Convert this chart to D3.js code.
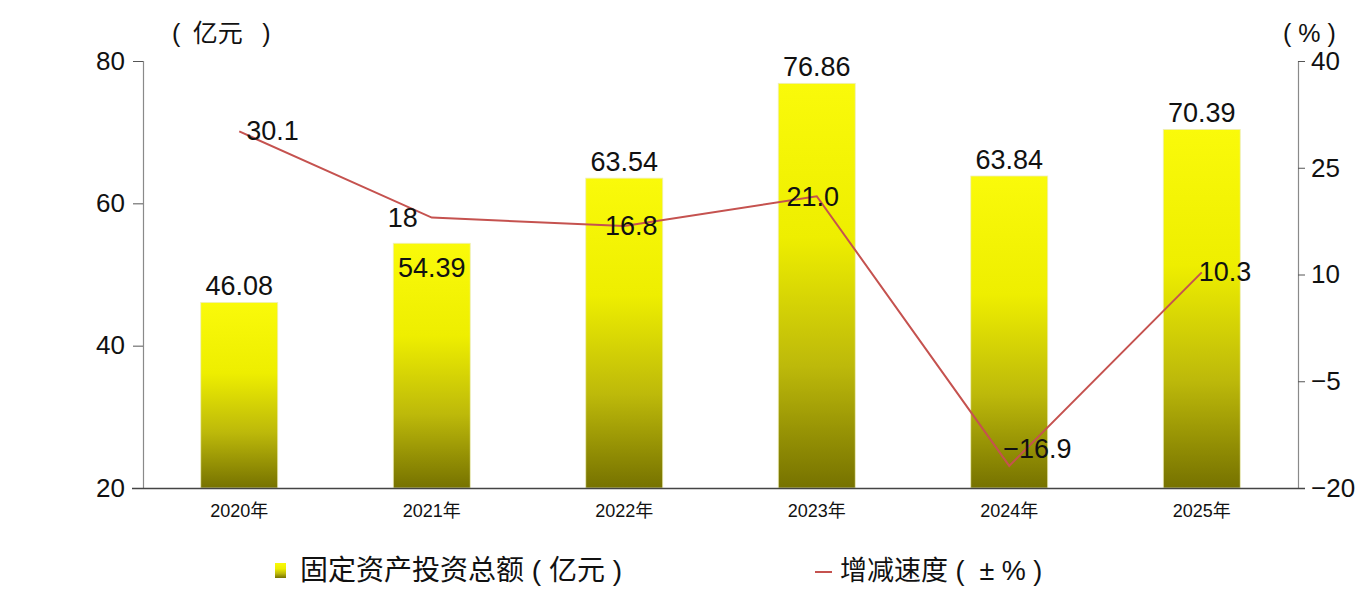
<!DOCTYPE html>
<html>
<head>
<meta charset="utf-8">
<script src="https://cdn.jsdelivr.net/npm/d3@7"></script>
<style>
  body { margin: 0; background: #fff; }
  svg { display: block; font-family: "Liberation Sans", "Noto Sans CJK SC", sans-serif; }
</style>
</head>
<body>
<svg id="chart"></svg>
<script>
// data
let years = ['2020年', '2021年', '2022年', '2023年', '2024年', '2025年'];
let investment = [46.08, 54.39, 63.54, 76.86, 63.84, 70.39];
let growth = [30.1, 18, 16.8, 21.0, -16.9, 10.3];
let growthText = ['30.1', '18', '16.8', '21.0', '\u221216.9', '10.3'];
let leftTicks = [20, 40, 60, 80];
let rightTicks = [-20, -5, 10, 25, 40];
let barName = '固定资产投资总额 ( 亿元 )';
let lineName = '增减速度 (  ± % )';
let leftUnit = '(\u2002亿元\u2002 )';
let rightUnit = '( % )';

let width = 1365;
let height = 610;
let plotLeft = 143;
let plotRight = 1298;
let plotTop = 61;
let plotBottom = 488;

let svg = d3.select('#chart')
  .attr('width', width)
  .attr('height', height);

let xScale = d3.scaleBand()
  .domain(years)
  .range([plotLeft, plotRight])
  .paddingInner(0.6)
  .paddingOuter(0.3);

let yLeft = d3.scaleLinear().domain([20, 80]).range([plotBottom, plotTop]);
let yRight = d3.scaleLinear().domain([-20, 40]).range([plotBottom, plotTop]);

let fmt = (d) => d < 0 ? '\u2212' + Math.abs(d) : String(d);

// gradient for the bars, each bar goes bright yellow -> olive
let defs = svg.append('defs');
let grad = defs.append('linearGradient')
  .attr('id', 'barGrad')
  .attr('x1', 0).attr('y1', 0)
  .attr('x2', 0).attr('y2', 1);
grad.append('stop').attr('offset', '0%').attr('stop-color', '#fafa0a');
grad.append('stop').attr('offset', '38%').attr('stop-color', '#eeee00');
grad.append('stop').attr('offset', '70%').attr('stop-color', '#bdb90a');
grad.append('stop').attr('offset', '100%').attr('stop-color', '#767200');

// bars
svg.append('g')
  .selectAll('rect')
  .data(investment)
  .enter()
  .append('rect')
  .attr('x', (d, i) => xScale(years[i]))
  .attr('y', (d) => yLeft(d))
  .attr('width', xScale.bandwidth())
  .attr('height', (d) => yLeft(20) - yLeft(d))
  .attr('fill', 'url(#barGrad)')
  .attr('stroke', '#eeeebb')
  .attr('stroke-width', 0.8);

// left axis
let leftAxis = svg.append('g')
  .attr('transform', 'translate(' + plotLeft + ',0)')
  .call(d3.axisLeft(yLeft).tickValues(leftTicks).tickSize(10).tickPadding(8).tickFormat(fmt));

// right axis
let rightAxis = svg.append('g')
  .attr('transform', 'translate(' + plotRight + ',0)')
  .call(d3.axisRight(yRight).tickValues(rightTicks).tickSize(7).tickPadding(6).tickFormat(fmt));

[leftAxis, rightAxis].forEach((ax) => {
  ax.select('.domain')
    .attr('d', 'M0.5,' + plotTop + 'V' + plotBottom)
    .attr('stroke', '#8a8a8a')
    .attr('stroke-width', 1.2);
  ax.selectAll('.tick line').attr('stroke', '#555');
  ax.selectAll('.tick text')
    .attr('fill', '#111')
    .style('font-size', '26px')
    .style('font-family', '"Liberation Sans", sans-serif');
});

// x axis
let xAxis = svg.append('g')
  .attr('transform', 'translate(0,' + plotBottom + ')')
  .call(d3.axisBottom(xScale).tickSize(0).tickPadding(16));
xAxis.select('.domain')
  .attr('d', 'M' + (plotLeft - 11) + ',0.5H' + (plotRight + 7))
  .attr('stroke', '#444')
  .attr('stroke-width', 1.4);
xAxis.selectAll('.tick text')
  .attr('fill', '#111')
  .style('font-size', '18px')
  .style('font-family', '"Liberation Sans", "Noto Sans CJK SC", sans-serif');

// growth line
let line = d3.line()
  .x((d, i) => xScale(years[i]) + xScale.bandwidth() / 2)
  .y((d) => yRight(d));

svg.append('path')
  .datum(growth)
  .attr('d', line)
  .attr('fill', 'none')
  .attr('stroke', '#c5524f')
  .attr('stroke-width', 2);

// bar value labels (2021 sits inside the bar to clear the line label)
let barLabelDy = [-7, 34, -7, -7, -7, -7];
svg.append('g')
  .selectAll('text')
  .data(investment)
  .enter()
  .append('text')
  .attr('x', (d, i) => xScale(years[i]) + xScale.bandwidth() / 2)
  .attr('y', (d, i) => yLeft(d) + barLabelDy[i])
  .attr('text-anchor', 'middle')
  .attr('fill', '#111')
  .style('font-size', '27px')
  .text((d) => d.toFixed(2));

// growth labels, nudged by hand like the original
let lineLabelPos = [
  { dx: 7, dy: 9, anchor: 'start' },
  { dx: -14, dy: 9, anchor: 'end' },
  { dx: 7, dy: 9, anchor: 'middle' },
  { dx: -4, dy: 10, anchor: 'middle' },
  { dx: -6, dy: -8, anchor: 'start' },
  { dx: -3, dy: 9, anchor: 'start' }
];
svg.append('g')
  .selectAll('text')
  .data(growth)
  .enter()
  .append('text')
  .attr('x', (d, i) => xScale(years[i]) + xScale.bandwidth() / 2 + lineLabelPos[i].dx)
  .attr('y', (d, i) => yRight(d) + lineLabelPos[i].dy)
  .attr('text-anchor', (d, i) => lineLabelPos[i].anchor)
  .attr('fill', '#111')
  .style('font-size', '27px')
  .text((d, i) => growthText[i]);

// unit labels
svg.append('text')
  .attr('x', 172).attr('y', 42)
  .attr('xml:space', 'preserve')
  .attr('fill', '#111')
  .style('font-size', '25px')
  .style('white-space', 'pre')
  .text(leftUnit);
svg.append('text')
  .attr('x', 1283).attr('y', 42)
  .attr('xml:space', 'preserve')
  .attr('fill', '#111')
  .style('font-size', '25px')
  .style('white-space', 'pre')
  .text(rightUnit);

// legend
let legend = svg.append('g');
legend.append('rect')
  .attr('x', 275).attr('y', 563)
  .attr('width', 11).attr('height', 15)
  .attr('fill', 'url(#barGrad)');
legend.append('text')
  .attr('x', 300).attr('y', 580)
  .attr('xml:space', 'preserve')
  .attr('fill', '#111')
  .style('font-size', '28px')
  .style('white-space', 'pre')
  .text(barName);
legend.append('line')
  .attr('x1', 815).attr('x2', 832)
  .attr('y1', 572).attr('y2', 572)
  .attr('stroke', '#c5524f')
  .attr('stroke-width', 2);
legend.append('text')
  .attr('x', 840).attr('y', 580)
  .attr('xml:space', 'preserve')
  .attr('fill', '#111')
  .style('font-size', '27px')
  .style('white-space', 'pre')
  .text(lineName);
</script>
</body>
</html>
